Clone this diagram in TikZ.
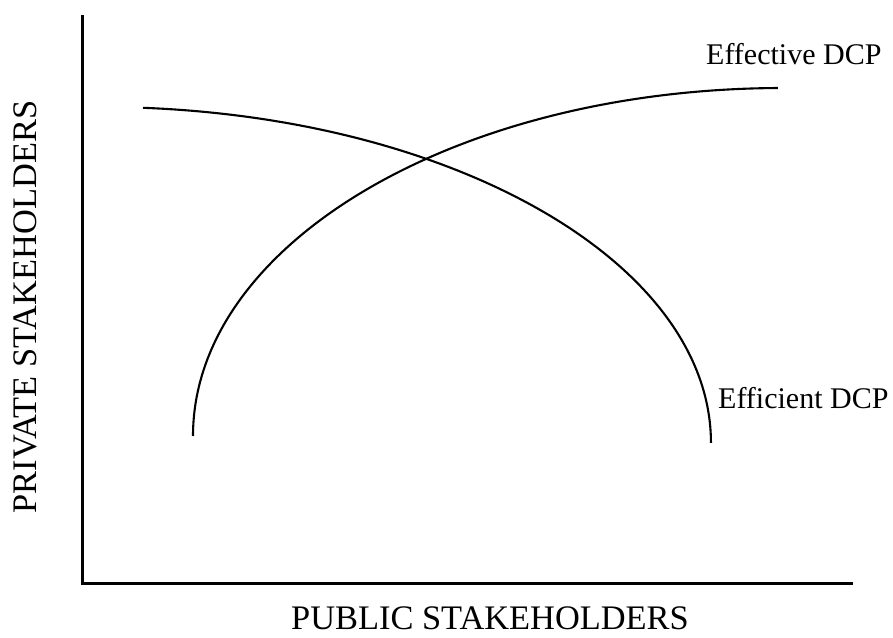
\documentclass[tikz,border=0pt]{standalone}
\usepackage{fontspec}
\setmainfont{Liberation Serif}
\begin{document}
\begin{tikzpicture}[x=1pt,y=1pt,
  axis/.style={line width=3pt, line join=miter},
  curve/.style={line width=2.1pt},
  curvelabel/.style={inner sep=0pt, anchor=base west, font=\fontsize{30}{36}\selectfont},
  axislabel/.style={inner sep=0pt, anchor=base, font=\fontsize{34.4}{40}\selectfont}]
\useasboundingbox (0,0) rectangle (893,637);
% axes
\coordinate (ytop) at (82,622);
\coordinate (origin) at (82,54);
\coordinate (xend) at (853,54);
\draw[axis] (ytop) -- (origin) -- (xend);
% Efficient DCP curve
\coordinate (effstart) at (143,529.2);
\draw[curve] (effstart) arc[start angle=85.96, end angle=0, x radius=611, y radius=336] coordinate (effend);
% Effective DCP curve
\coordinate (efvstart) at (193,201);
\draw[curve] (efvstart) arc[start angle=180, end angle=90.49, x radius=590, y radius=348] coordinate (efvend);
% labels
\node[curvelabel] (lEffective) at (706,572) {Effective DCP};
\node[curvelabel] (lEfficient) at (718,228) {Efficient DCP};
\node[axislabel] (lPublic) at (490,8) {PUBLIC STAKEHOLDERS};
\node[axislabel, rotate=90] (lPrivate) at (36,330) {PRIVATE STAKEHOLDERS};
\end{tikzpicture}
\end{document}
